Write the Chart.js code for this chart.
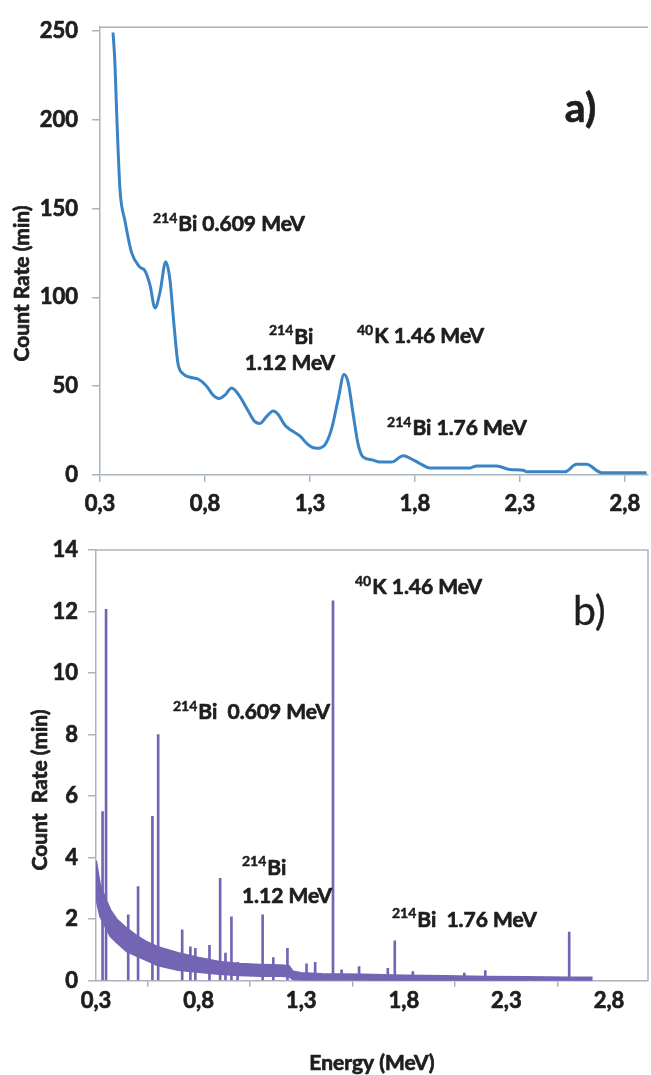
<!DOCTYPE html>
<html lang="en">
<head>
<meta charset="UTF-8">
<title>Gamma spectra a) and b)</title>
<script src="https://cdn.jsdelivr.net/npm/chart.js"></script>
<style>
  body { margin: 0; background: #fff; }
  #wrap { position: relative; width: 651px; height: 1075px; }
  canvas { position: absolute; left: 0; }
  #chartA { top: 0; }
  #chartB { top: 525px; }
</style>
</head>
<body>
<div id="wrap">
  <canvas id="chartA" width="651" height="525"></canvas>
  <canvas id="chartB" width="651" height="550"></canvas>
</div>
<script>
// shared x ticks
const xTicks = [0.3, 0.8, 1.3, 1.8, 2.3, 2.8];
const xTickLabels = ['0,3', '0,8', '1,3', '1,8', '2,3', '2,8'];

// panel a) smoothed spectrum (read off the picture)
const energyA = [0.362, 0.371, 0.379, 0.395, 0.419, 0.451, 0.490, 0.514, 0.538, 0.562, 0.586, 0.613, 0.633,
  0.652, 0.671, 0.695, 0.729, 0.767, 0.808, 0.838, 0.867, 0.895, 0.927, 0.967, 1.006, 1.038, 1.062, 1.094,
  1.125, 1.149, 1.181, 1.213, 1.252, 1.292, 1.332, 1.371, 1.403, 1.435, 1.462, 1.482, 1.506, 1.530, 1.554,
  1.594, 1.633, 1.689, 1.744, 1.784, 1.824, 1.871, 2.062, 2.094, 2.189, 2.252, 2.316, 2.332, 2.514, 2.570,
  2.617, 2.689, 2.903];
const countA = [249, 232, 205, 161, 143, 125, 117, 115, 107, 94, 103, 120, 110,
  85, 63, 57, 55, 54, 50, 45, 43, 45, 49, 44, 36, 30, 29, 33,
  36, 34, 28, 25, 22, 17, 15, 17, 26, 43, 56.5, 52, 34, 17, 10,
  8.6, 7.3, 7.3, 10.9, 9, 6.4, 4, 4, 5.1, 5.1, 3.1, 2.7, 1.8, 1.8, 6,
  6, 1.3, 1.3];
const yTicksA = [0, 50, 100, 150, 200, 250];

// panel b) raw spectrum: peaks + noisy continuum band
const spikeE = [0.332, 0.349, 0.457, 0.505, 0.575, 0.603, 0.720, 0.760, 0.784, 0.853, 0.905, 0.931, 0.960,
  0.990, 1.112, 1.164, 1.233, 1.326, 1.368, 1.455, 1.497, 1.582, 1.722, 1.756, 1.844, 2.095, 2.197, 2.606];
const spikeTop = [5.5, 12.07, 2.14, 3.06, 5.34, 8.0, 1.65, 1.1, 1.05, 1.15, 3.33, 0.9, 2.08,
  0.6, 2.14, 0.75, 1.05, 0.55, 0.6, 12.35, 0.35, 0.46, 0.4, 1.3, 0.3, 0.25, 0.33, 1.58];
const bandE = [0.30, 0.32, 0.35, 0.37, 0.40, 0.45, 0.50, 0.55, 0.60, 0.70, 0.80, 0.90, 1.00, 1.10, 1.20,
  1.24, 1.26, 1.30, 1.40, 1.60, 1.80, 2.00, 2.20, 2.40, 2.60, 2.72];
const bandHigh = [3.9, 3.1, 2.6, 2.3, 2.0, 1.7, 1.45, 1.25, 1.1, 0.9, 0.75, 0.62, 0.55, 0.52, 0.5,
  0.48, 0.3, 0.25, 0.22, 0.2, 0.17, 0.15, 0.13, 0.12, 0.1, 0.1];
const bandLow = [2.7, 2.1, 1.7, 1.45, 1.25, 0.95, 0.8, 0.65, 0.5, 0.35, 0.28, 0.22, 0.18, 0.15, 0.15,
  0.14, 0.05, 0.03, 0.02, 0.02, 0.01, 0.01, 0.01, 0, 0, 0];
const yTicksB = [0, 2, 4, 6, 8, 10, 12, 14];

const AXIS = '#aab4bf';
const TEXT = '#1e1e1e';
const FONT = 'Lato';
const BLUE = '#3a84c6';
const PURPLE = '#7464b4';

const labelsA = [
  { sup: '214', text: 'Bi 0.609 MeV', x: 0.552, y: 141 },
  { sup: '214', text: 'Bi', x: 1.21, y: 77.7, align: 'center' },
  { text: '1.12 MeV', x: 1.205, y: 62.9, align: 'center' },
  { sup: '40', text: 'K 1.46 MeV', x: 1.524, y: 78.2 },
  { sup: '214', text: 'Bi 1.76 MeV', x: 1.667, y: 26.3 },
  { text: 'a)', x: 2.514, y: 206, font: 'bold 41px ' + FONT }
];
const labelsB = [
  { sup: '40', text: 'K 1.46 MeV', x: 1.562, y: 12.79 },
  { text: 'b)', x: 2.625, y: 12.0, font: '41px ' + FONT, thin: true },
  { sup: '214', text: 'Bi  0.609 MeV', x: 0.675, y: 8.72 },
  { sup: '214', text: 'Bi', x: 1.011, y: 3.67 },
  { text: '1.12 MeV', x: 1.011, y: 2.73 },
  { sup: '214', text: 'Bi  1.76 MeV', x: 1.742, y: 1.98 }
];

// draws text a bit heavier, like the bold Calibri of the original
function heavyText(ctx, s, x, y, w) {
  ctx.lineWidth = w;
  ctx.strokeText(s, x, y);
  ctx.fillText(s, x, y);
}

// frame lines, annotations and axis titles
const extras = {
  id: 'extras',
  afterDraw(chart, args, opts) {
    const { ctx, chartArea: a, scales: { x, y } } = chart;
    ctx.save();
    ctx.strokeStyle = AXIS;
    ctx.lineWidth = 1.5;
    ctx.beginPath();
    ctx.moveTo(a.left, a.top);
    ctx.lineTo(a.right, a.top);
    if (opts.rightBorder) ctx.lineTo(a.right, a.bottom);
    ctx.stroke();

    ctx.fillStyle = TEXT;
    ctx.strokeStyle = TEXT;
    ctx.lineJoin = 'round';
    ctx.textBaseline = 'middle';
    ctx.textAlign = 'left';
    const main = 'bold 21px ' + FONT;
    const supF = 'bold 14px ' + FONT;
    opts.labels.forEach(l => {
      let px = x.getPixelForValue(l.x);
      const py = y.getPixelForValue(l.y);
      ctx.font = supF;
      const ws = l.sup ? ctx.measureText(l.sup).width + 1 : 0;
      ctx.font = l.font || main;
      const wm = ctx.measureText(l.text).width;
      if (l.align === 'center') px -= (ws + wm) / 2;
      if (l.sup) {
        ctx.font = supF;
        heavyText(ctx, l.sup, px, py - 6, 0.5);
      }
      ctx.font = l.font || main;
      heavyText(ctx, l.text, px + ws, py, l.thin ? 0.3 : 0.7);
    });

    ctx.font = 'bold 21px ' + FONT;
    ctx.textAlign = 'center';
    if (opts.xTitle) {
      heavyText(ctx, opts.xTitle, (a.left + a.right) / 2, opts.xTitleY, 0.7);
    }
    ctx.translate(opts.titleX, y.getPixelForValue(opts.titleY));
    ctx.rotate(-Math.PI / 2);
    heavyText(ctx, opts.title, 0, 0, 0.7);
    ctx.restore();
  }
};

function axisGrid(len) {
  return { drawOnChartArea: false, drawTicks: true, tickLength: len, color: AXIS, lineWidth: 1.5 };
}
const tickFont = { family: FONT, size: 22, weight: 'bold' };
const tickStyle = { font: tickFont, color: TEXT, textStrokeColor: TEXT, textStrokeWidth: 0.7 };

new Chart(document.getElementById('chartA'), {
  type: 'line',
  data: {
    datasets: [{
      data: energyA.map((e, i) => ({ x: e, y: countA[i] })),
      borderColor: BLUE,
      borderWidth: 3,
      pointRadius: 0,
      cubicInterpolationMode: 'monotone',
      fill: false
    }]
  },
  options: {
    responsive: false,
    animation: false,
    devicePixelRatio: 1,
    layout: { padding: { top: 15, right: 3, left: 0, bottom: 0 } },
    plugins: {
      legend: { display: false },
      tooltip: { enabled: false },
      extras: { labels: labelsA, title: 'Count Rate (min)', titleX: 22, titleY: 107.8 }
    },
    scales: {
      x: {
        type: 'linear', min: 0.3, max: 2.91, offset: false,
        afterBuildTicks: s => { s.ticks = xTicks.map(v => ({ value: v })); },
        ticks: { ...tickStyle, callback: (v, i) => xTickLabels[i], padding: 9, maxRotation: 0 },
        grid: axisGrid(7),
        border: { display: true, color: AXIS, width: 1.5 },
        afterFit: s => { s.height = 50; }
      },
      y: {
        min: 0, max: 252,
        afterBuildTicks: s => { s.ticks = yTicksA.map(v => ({ value: v })); },
        ticks: { ...tickStyle, padding: 14 },
        grid: axisGrid(8),
        border: { display: true, color: AXIS, width: 1.5 },
        afterFit: s => { s.width = 100; }
      }
    }
  },
  plugins: [extras]
});

new Chart(document.getElementById('chartB'), {
  type: 'line',
  data: {
    datasets: [
      {
        type: 'bar',
        data: spikeE.map((e, i) => ({ x: e, y: spikeTop[i] })),
        backgroundColor: PURPLE,
        barThickness: 2,
        order: 2
      },
      {
        data: bandE.map((e, i) => ({ x: e, y: bandLow[i] })),
        borderColor: PURPLE, borderWidth: 2, pointRadius: 0, fill: false, order: 1
      },
      {
        data: bandE.map((e, i) => ({ x: e, y: bandHigh[i] })),
        borderColor: PURPLE, borderWidth: 2, pointRadius: 0, fill: '-1',
        backgroundColor: PURPLE, order: 1
      }
    ]
  },
  options: {
    responsive: false,
    animation: false,
    devicePixelRatio: 1,
    layout: { padding: { top: 25, right: 3, left: 0, bottom: 0 } },
    plugins: {
      legend: { display: false },
      tooltip: { enabled: false },
      extras: {
        labels: labelsB, rightBorder: true,
        title: 'Count  Rate (min)', titleX: 40, titleY: 6.2,
        xTitle: 'Energy (MeV)', xTitleY: 538
      }
    },
    scales: {
      x: {
        type: 'linear', min: 0.3, max: 2.99, offset: false,
        afterBuildTicks: s => { s.ticks = xTicks.map(v => ({ value: v })); },
        ticks: { ...tickStyle, callback: (v, i) => xTickLabels[i], padding: 1, maxRotation: 0 },
        grid: axisGrid(6),
        border: { display: true, color: AXIS, width: 1.5 },
        afterFit: s => { s.height = 94.3; }
      },
      y: {
        min: 0, max: 14,
        afterBuildTicks: s => { s.ticks = yTicksB.map(v => ({ value: v })); },
        ticks: { ...tickStyle, padding: 10 },
        grid: axisGrid(8),
        border: { display: true, color: AXIS, width: 1.5 },
        afterFit: s => { s.width = 96; }
      }
    }
  },
  plugins: [extras]
});
</script>
</body>
</html>
